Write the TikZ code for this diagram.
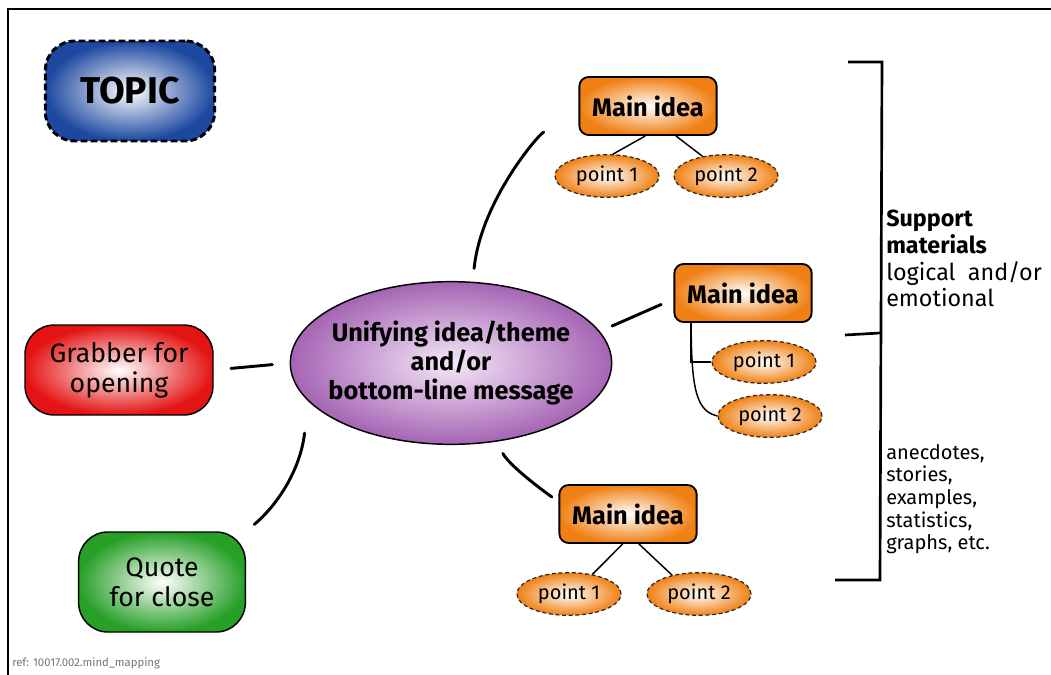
\documentclass[tikz,border=0pt]{standalone}
\usepackage{fontspec}
\setmainfont{Fira Sans}
\usepackage{xcolor}
\usetikzlibrary{positioning, shapes.geometric}

\definecolor{TopicBlue}{RGB}{28,72,160}
\definecolor{IdeaOrange}{RGB}{240,128,20}
\definecolor{ThemePurple}{RGB}{165,100,180}
\definecolor{ThemeLight}{RGB}{245,232,248}
\definecolor{GrabRed}{RGB}{228,20,20}
\definecolor{QuoteGreen}{RGB}{40,160,40}

\begin{document}
\begin{tikzpicture}[x=0.75pt, y=-0.75pt,
	topicbox/.style={draw=black, line width=2.2pt, dash pattern=on 5pt off 2.5pt, rounded corners=22pt, minimum width=127pt, minimum height=75pt, inner color=white, outer color=TopicBlue, font=\fontsize{28}{30}\selectfont\bfseries},
	theme/.style={ellipse, draw=black, line width=1.1pt, minimum width=241pt, minimum height=122pt, inner xsep=-12pt, inner ysep=0pt, align=center, inner color=ThemeLight, outer color=ThemePurple, font=\fontsize{19}{22}\selectfont\bfseries},
	idea/.style={draw=black, line width=1.4pt, rounded corners=7pt, minimum width=103pt, minimum height=43.5pt, inner color=white, outer color=IdeaOrange, font=\fontsize{19}{21}\selectfont\bfseries},
	pointbox/.style={ellipse, draw=black!85, dash pattern=on 3pt off 2pt, line width=0.9pt, minimum width=78pt, minimum height=32pt, inner sep=0pt, inner color=white, outer color=IdeaOrange, font=\fontsize{15}{17}\selectfont},
	pill/.style={draw=black, line width=1.1pt, rounded corners=22pt, align=center, font=\fontsize{20}{22.5}\selectfont},
	link/.style={line width=2.2pt, line cap=round},
	twig/.style={line width=1.1pt},
	]
	\useasboundingbox (0,0) rectangle (1051,675);
	% frame
	\draw[line width=2pt] (8,675) -- (8,9) -- (1051,9);
	%
	\node[topicbox] (topic) at (130,91) {TOPIC};
	\node[theme] (cen) at (451,363) {Unifying idea/theme\\and/or\\bottom-line message};
	\node[pill, minimum width=141pt, minimum height=67.5pt, inner color=white, outer color=GrabRed] (grab) at (119,370) {Grabber for\\opening};
	\node[pill, minimum width=125pt, minimum height=75pt, inner color=white, outer color=QuoteGreen] (quote) at (162,582) {Quote\\for close};
	%
	\node[idea] (main1) at (648,106) {Main idea};
	\node[idea] (main2) at (743,293) {Main idea};
	\node[idea] (main3) at (628,514) {Main idea};
	%
	\node[pointbox] (p11) at (607,176) {point 1};
	\node[pointbox] (p12) at (726,176) {point 2};
	\node[pointbox] (p21) at (764,362) {point 1};
	\node[pointbox] (p22) at (770,416) {point 2};
	\node[pointbox] (p31) at (569,594) {point 1};
	\node[pointbox] (p32) at (699,594) {point 2};
	%
	\draw[link, shorten <=10pt, shorten >=28pt] (cen.75) .. controls +(8,-80) and +(-40,16) .. (main1.190);
	\draw[link, shorten <=10pt, shorten >=10pt] (cen.12) -- (main2.185);
	\draw[link, shorten <=13pt, shorten >=13pt] (cen.west) -- (grab.east);
	\draw[link, shorten <=10pt, shorten >=6pt] (cen.-60) .. controls +(12,22) and +(-25,-18) .. (main3.170);
	\draw[link, shorten <=24pt, shorten >=8pt] (cen.-165) .. controls +(-8,70) and +(30,-25) .. (quote.north east);
	%
	\draw[twig] (main1.-95) -- (p11.75);
	\draw[twig] (main1.-47) -- (p12.140);
	\draw[twig] (main2.-150) |- (p21.west);
	\draw[twig] (main2.-150) .. controls +(0,70) and +(-20,-5) .. (p22.west);
	\draw[twig] (main3.-100) -- (p31.40);
	\draw[twig] (main3.-70) -- (p32.145);
	%
	% bracket
	\draw[line width=2pt] (848,62) -- (882,62) -- (880,580) -- (835,580);
	\draw[line width=2pt] (845,335) -- (880,333);
	\node[anchor=north west, align=left, inner sep=0pt, font=\fontsize{17.5}{20}\selectfont] (support) at (886,210)
		{\textbf{Support}\\\textbf{materials}\\logical\ \ and/or\\emotional};
	\node[anchor=north west, align=left, inner sep=0pt, font=\fontsize{15}{17}\selectfont] (kinds) at (886,444)
		{anecdotes,\\stories,\\examples,\\statistics,\\graphs, etc.};
	\node[anchor=west, inner sep=0pt, text=black!55, font=\fontsize{8.5}{10}\selectfont] (reftag) at (12,663) {ref: 10017.002.mind\_mapping};
\end{tikzpicture}
\end{document}
